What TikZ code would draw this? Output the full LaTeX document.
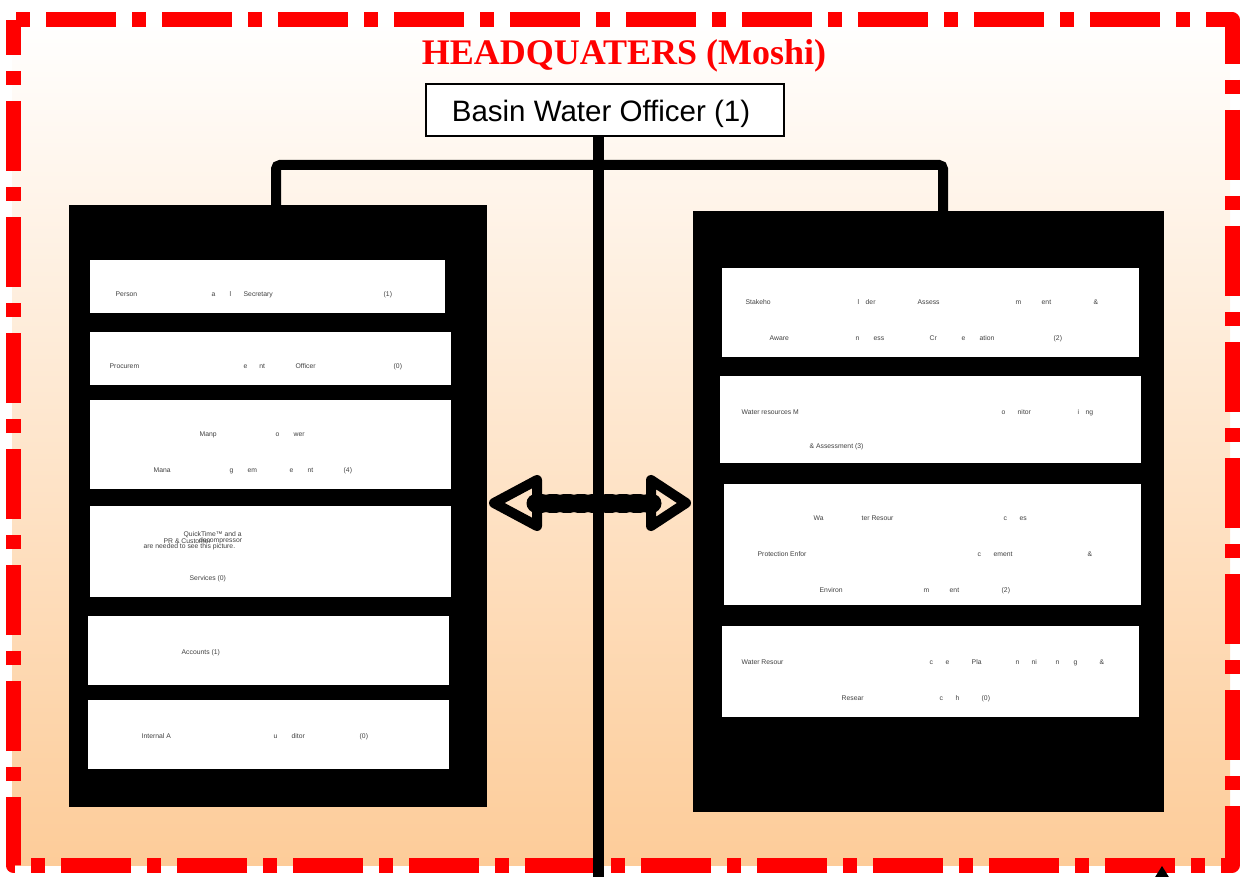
\documentclass[tikz,border=0pt]{standalone}
\usepackage{fontspec}
\setmainfont{Liberation Serif}
\newfontfamily\arialf{Liberation Sans}
\usetikzlibrary{calc}
\definecolor{hqred}{RGB}{255,0,0}
\definecolor{peach}{RGB}{253,204,153}
\newcounter{frc}
\newcommand\fr[3]{\stepcounter{frc}\node[frag] (fr\arabic{frc}) at (#1,#2+3) {#3};}
\begin{document}
\begin{tikzpicture}[x=1pt,y=-1pt,
  frag/.style={anchor=base west, inner sep=0pt, outer sep=0pt, font=\arialf\fontsize{6.8}{8}\selectfont, text=black!75},
  hqborder/.style={draw=hqred, line width=15pt, line join=round, dash pattern=on 70pt off 16pt on 14pt off 16pt, dash phase=83pt},
  bigbox/.style={fill=black, inner sep=0pt, outer sep=0pt},
  innerbox/.style={fill=white, inner sep=0pt, outer sep=0pt},
  conn/.style={draw=black, line width=10pt, rounded corners=4pt},
  mainline/.style={draw=black, line width=11pt},
  shaft/.style={draw=black, line width=19pt, line cap=round, dash pattern=on 6pt off 8pt},
  headtri/.style={draw=black, line width=10pt, line join=round, line cap=round}]
\useasboundingbox (0,0) rectangle (1241,877);
% background
\shade[top color=white, bottom color=peach] (12,18) rectangle (1230,865);
\draw[hqborder] (13,20) -- (1232,20) -- (1232,865) -- (13,865) -- cycle;
% title
\node[font=\bfseries\fontsize{36}{41}\selectfont, text=hqred, anchor=base, inner sep=0pt] (title) at (624,65) {HEADQUATERS (Moshi)};
% top box
\node[draw=black, line width=2pt, fill=white, minimum width=358pt, minimum height=52pt, inner sep=0pt,
      text height=30pt, text depth=6pt, font=\arialf\fontsize{29.5}{34}\selectfont] (bwo) at (605,110) {\hspace*{-8pt}Basin Water Officer (1)};
% big boxes
\node[bigbox, minimum width=418pt, minimum height=602pt] (L) at (278,506) {};
\node[bigbox, minimum width=471pt, minimum height=601pt] (R) at (928.5,511.5) {};
% connectors
\coordinate (bar) at (598,165);
\draw[conn] ([xshift=-2pt]L.north) |- (bar) -| ([xshift=14.5pt]R.north);
% left inner boxes
\node[innerbox, minimum width=355pt, minimum height=53pt] (l1) at (267.5,286.5) {};
\node[innerbox, minimum width=361pt, minimum height=53pt] (l2) at (270.5,358.5) {};
\node[innerbox, minimum width=361pt, minimum height=89pt] (l3) at (270.5,444.5) {};
\node[innerbox, minimum width=361pt, minimum height=91pt] (l4) at (270.5,551.5) {};
\node[innerbox, minimum width=361pt, minimum height=69pt] (l5) at (268.5,650.5) {};
\node[innerbox, minimum width=361pt, minimum height=69pt] (l6) at (268.5,734.5) {};
% right inner boxes
\node[innerbox, minimum width=417pt, minimum height=89pt] (r1) at (930.5,312.5) {};
\node[innerbox, minimum width=421pt, minimum height=87pt] (r2) at (930.5,419.5) {};
\node[innerbox, minimum width=417pt, minimum height=121pt] (r3) at (932.5,544.5) {};
\node[innerbox, minimum width=417pt, minimum height=91pt] (r4) at (930.5,671.5) {};
% left texts
\fr{115.7}{293.7}{Person}\fr{211.7}{293.7}{a}\fr{229.7}{293.7}{l}\fr{243.7}{293.7}{Secretary}\fr{383.7}{293.7}{(1)}
\fr{109.7}{365.7}{Procurem}\fr{243.7}{365.7}{e}\fr{259.3}{365.7}{nt}\fr{295.7}{365.7}{Officer}\fr{393.7}{365.7}{(0)}
\fr{199.7}{433.7}{Manp}\fr{275.7}{433.7}{o}\fr{293.7}{433.7}{wer}
\fr{153.7}{469.7}{Mana}\fr{229.7}{469.7}{g}\fr{247.7}{469.7}{em}\fr{289.7}{469.7}{e}\fr{307.7}{469.7}{nt}\fr{343.7}{469.7}{(4)}
\fr{183.7}{533.7}{QuickTime™ and a}
\fr{163.7}{540.3}{PR \& Customer}
\fr{199.0}{539.0}{decompressor}
\fr{143.7}{545.7}{are needed to see this picture.}
\fr{189.7}{577.7}{Services (0)}
\fr{181.7}{651.7}{Accounts (1)}
\fr{141.7}{735.7}{Internal A}\fr{273.7}{735.7}{u}\fr{291.7}{735.7}{ditor}\fr{359.7}{735.7}{(0)}
% right texts
\fr{745.7}{301.7}{Stakeho}\fr{857.7}{301.7}{l}\fr{865.7}{301.7}{der}\fr{917.7}{301.7}{Assess}\fr{1015.7}{301.7}{m}\fr{1041.7}{301.7}{ent}\fr{1093.7}{301.7}{\&}
\fr{769.7}{337.7}{Aware}\fr{855.7}{337.7}{n}\fr{873.7}{337.7}{ess}\fr{929.7}{337.7}{Cr}\fr{961.7}{337.7}{e}\fr{979.7}{337.7}{ation}\fr{1053.7}{337.7}{(2)}
\fr{741.7}{411.7}{Water resources M}\fr{1001.7}{411.7}{o}\fr{1017.7}{411.7}{nitor}\fr{1077.7}{411.7}{i}\fr{1085.7}{411.7}{ng}
\fr{809.7}{445.7}{\& Assessment (3)}
\fr{813.7}{517.7}{Wa}\fr{861.7}{517.7}{ter Resour}\fr{1003.7}{517.7}{c}\fr{1019.7}{517.7}{es}
\fr{757.7}{553.7}{Protection Enfor}\fr{977.7}{553.7}{c}\fr{993.7}{553.7}{ement}\fr{1087.7}{553.7}{\&}
\fr{819.7}{589.7}{Environ}\fr{923.7}{589.7}{m}\fr{949.7}{589.7}{ent}\fr{1001.7}{589.7}{(2)}
\fr{741.7}{661.7}{Water Resour}\fr{929.7}{661.7}{c}\fr{945.7}{661.7}{e}\fr{971.7}{661.7}{Pla}\fr{1015.7}{661.7}{n}\fr{1031.7}{661.7}{ni}\fr{1055.7}{661.7}{n}\fr{1073.7}{661.7}{g}\fr{1099.7}{661.7}{\&}
\fr{841.7}{697.7}{Resear}\fr{939.7}{697.7}{c}\fr{955.7}{697.7}{h}\fr{981.7}{697.7}{(0)}
% double arrow between the two boxes
\coordinate (al) at ([yshift=3pt]L.east);
\coordinate (ar) at ([yshift=8.5pt]R.west);
\draw[shaft] ([xshift=49pt]al) -- ([xshift=-41pt]ar);
\draw[headtri] ([xshift=7pt]al) -- ([xshift=50pt,yshift=23pt]al) -- ([xshift=50pt,yshift=-23pt]al) -- cycle;
\draw[headtri] ([xshift=-7pt]ar) -- ([xshift=-42pt,yshift=23pt]ar) -- ([xshift=-42pt,yshift=-23pt]ar) -- cycle;
% main vertical line
\coordinate (bot) at (598,882);
\draw[mainline] ([xshift=-7pt]bwo.south) -- (bot);
% arrow tip at bottom right edge
\fill[black] (1162,866) -- (1172,882) -- (1152,882) -- cycle;
\end{tikzpicture}
\end{document}
